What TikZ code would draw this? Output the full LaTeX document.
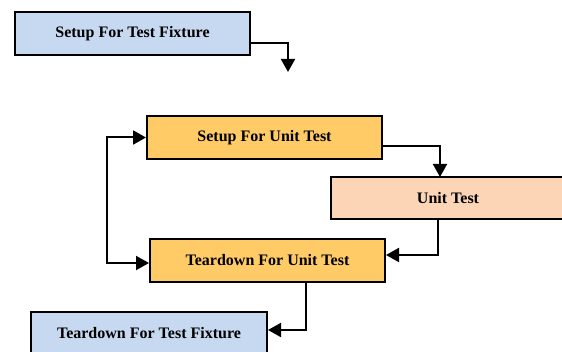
\documentclass[tikz,border=0pt]{standalone}
\usepackage{fontspec}
\setmainfont{Liberation Serif}
\usetikzlibrary{arrows.meta,calc}
\definecolor{fixblue}{HTML}{C6D9F0}
\definecolor{unitorange}{HTML}{FECB66}
\definecolor{unitpeach}{HTML}{FBD5B5}
\begin{document}
\begin{tikzpicture}[x=1pt,y=-1pt,
  box/.style={draw=black,line width=2pt,minimum width=235pt,minimum height=43pt,
    inner sep=0pt,font=\fontsize{16}{19}\selectfont\bfseries,text=black},
  conn/.style={line width=2pt,-{Triangle[length=13pt,width=14pt]}},
  conn2/.style={line width=2pt,{Triangle[length=13pt,width=14pt]}-{Triangle[length=13pt,width=14pt]}}]
\useasboundingbox (0,0) rectangle (562,352);
\node[box,fill=fixblue] (b1) at (132.5,33.5) {Setup For Test Fixture};
\node[box,fill=unitorange] (b2) at (264.5,137.5) {Setup For Unit Test};
\node[box,fill=unitpeach,minimum width=234pt,minimum height=42pt] (b3) at (448,198) {Unit Test};
\node[box,fill=unitorange] (b4) at (267.5,260.5) {Teardown For Unit Test};
\node[box,fill=fixblue,minimum width=236pt] (b5) at (149,333.5) {Teardown For Test Fixture};
\coordinate (s1) at (250,43);
\coordinate (e1) at (288,72);
\draw[conn] (s1) -| (e1);
\coordinate (s2) at (382,146);
\coordinate (e2) at (440,177);
\draw[conn] (s2) -| (e2);
\coordinate (lx) at (107,0);
\draw[conn2] (b2.west) -- (lx |- b2.west) -- (lx |- 0,263) -- (b4.west |- 0,263);
\coordinate (s3) at (438,219);
\draw[conn] (s3) |- (b4.east |- 0,255);
\coordinate (s4) at (306,282);
\draw[conn] (s4) |- (b5.east |- 0,330);
\end{tikzpicture}
\end{document}
